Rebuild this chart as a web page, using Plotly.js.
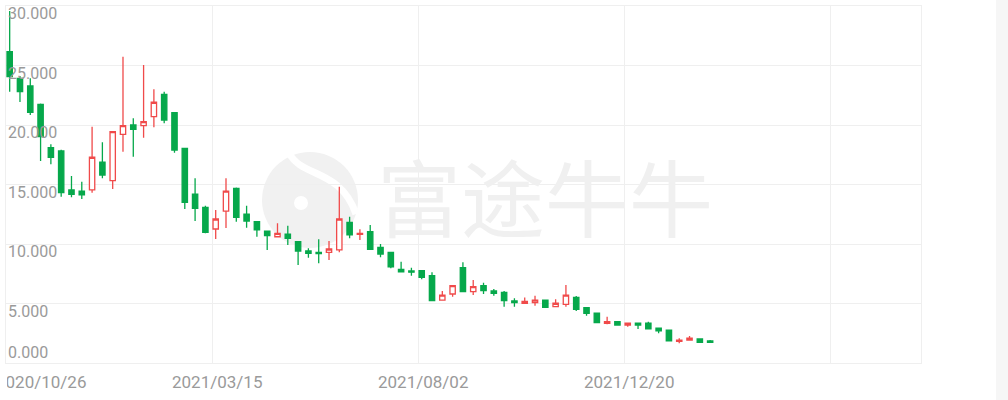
<!DOCTYPE html>
<html>
<head>
<meta charset="utf-8">
<script src="https://cdn.plot.ly/plotly-3.0.1.min.js"></script>
<style>
  html, body { margin: 0; padding: 0; background: linear-gradient(to right, #ffffff 996px, #f6f6f6 996px); }
  #wrap { position: relative; width: 1008px; height: 400px; }
  #chart { width: 1008px; height: 400px; }
  /* the canvas edge trims the first date label on the left */
  #edge { position: absolute; left: 0; top: 366px; width: 7px; height: 34px; background: #ffffff; }
</style>
</head>
<body>
<div id="wrap"><div id="chart"></div><div id="edge"></div></div>
<script>
// Weekly K-line, first bar on the week of 2020-10-26
const firstWeek = Date.UTC(2020, 9, 26);
const openP  = [26.16,23.92,23.28,21.74,18.09,17.82,14.54,14.45,14.54,16.87,15.32,19.22,20.00,19.94,20.70,22.58,21.03,18.04,14.18,13.08,11.26,12.77,14.68,12.50,11.87,11.09,10.61,10.82,10.19,9.41,9.30,9.30,9.50,11.82,10.82,11.03,9.72,9.30,7.87,7.73,7.76,7.34,5.29,5.80,8.01,5.99,6.50,6.05,5.94,5.21,5.02,5.07,5.29,4.73,4.93,5.52,4.65,4.18,3.34,3.47,3.19,3.34,3.34,2.92,2.77,1.82,1.93,2.02,1.85];
const highP  = [29.58,24.12,23.92,21.80,18.38,17.92,15.71,15.24,19.86,18.55,19.44,25.74,20.56,25.04,23.00,22.80,21.03,18.04,15.52,13.22,12.86,15.52,14.75,13.22,11.90,11.12,11.74,11.54,10.22,9.64,10.39,10.25,14.82,12.29,11.24,11.60,10.00,9.32,8.51,8.01,7.78,7.62,6.05,6.50,8.46,6.97,6.75,6.22,6.05,5.44,5.50,5.66,5.31,5.35,6.55,5.63,4.67,4.20,3.89,3.50,3.34,3.36,3.47,2.94,2.79,2.08,2.27,2.04,1.93];
const lowP   = [22.80,21.93,20.84,16.97,16.70,13.97,13.92,13.78,14.31,15.52,14.62,17.76,17.34,18.93,19.81,20.14,17.67,12.94,11.93,10.90,10.42,11.34,11.87,11.37,10.61,9.50,10.61,9.92,8.24,8.85,8.38,8.66,9.30,10.48,10.34,9.50,8.88,7.96,7.67,7.34,7.03,5.24,5.27,5.57,5.99,5.71,5.80,5.66,4.73,4.73,5.02,4.82,4.68,4.73,4.73,4.37,3.97,3.39,3.25,3.19,3.05,2.86,2.86,2.50,1.87,1.66,1.93,1.74,1.74];
const closeP = [24.06,22.80,21.07,19.02,17.29,14.31,14.18,14.12,17.29,15.80,19.44,19.94,19.64,20.28,21.91,20.42,17.90,13.50,13.00,10.98,12.10,14.45,12.23,11.93,11.18,10.70,10.90,10.48,9.41,9.22,9.19,9.58,12.10,10.76,10.90,9.55,9.16,8.09,7.67,7.63,7.20,5.24,5.71,6.50,5.99,6.41,6.08,5.86,5.24,5.07,5.18,5.29,4.68,5.02,5.71,4.51,4.18,3.39,3.47,3.19,3.34,3.19,2.86,2.71,1.87,1.91,2.08,1.74,1.74];

const tickDates  = ['2020-10-26', '2021-03-15', '2021-08-02', '2021-12-20', '2022-05-09'];
const tickLabels = ['2020/10/26', '2021/03/15', '2021/08/02', '2021/12/20', ''];
const yTickVals   = [0, 5, 10, 15, 20, 25, 30];
const yTickLabels = ['0.000', '5.000', '10.000', '15.000', '20.000', '25.000', '30.000'];

const DAY = 86400000;
const weeks = openP.map((_, i) => new Date(firstWeek + i * 7 * DAY).toISOString().slice(0, 10));

const UP = '#f04a4a', DOWN = '#06a84b';
const labelFont = { family: 'Roboto, sans-serif', size: 16, color: '#9a9a9a' };

// plot-area pixel helpers for the watermark
const L = 6, R = 921, T = 6, B = 363;
const px = v => (v - L) / (R - L);
const py = v => (B - v) / (B - T);

const annotations = [];
yTickVals.forEach((v, i) => {
  annotations.push({
    xref: 'paper', yref: 'y', x: 0, y: v, xanchor: 'left', yanchor: 'middle',
    xshift: 0, yshift: v === 0 ? 10.5 : -7.5,
    text: yTickLabels[i], showarrow: false, font: labelFont
  });
});
tickDates.forEach((d, i) => {
  if (!tickLabels[i]) return;
  annotations.push({
    xref: 'x', yref: 'paper', x: d, y: 0,
    xanchor: i === 0 ? 'left' : 'center', yanchor: 'middle',
    xshift: i === 0 ? -12 : 5, yshift: -19,
    text: tickLabels[i], showarrow: false, font: Object.assign({}, labelFont, { size: 17 })
  });
});
// watermark lettering
annotations.push({
  xref: 'paper', yref: 'paper', x: px(545), y: py(194), xanchor: 'center', yanchor: 'middle',
  text: '富途牛牛', showarrow: false,
  font: { family: 'Noto Sans CJK SC, sans-serif', size: 84, color: '#f0f0f0' }
});

const shapes = [
  { type: 'circle', xref: 'paper', yref: 'paper', layer: 'below',
    x0: px(262), x1: px(358), y0: py(248), y1: py(152),
    fillcolor: '#f1f1f1', line: { width: 0 } },
  { type: 'path', xref: 'paper', yref: 'paper', layer: 'below',
    path: `M ${px(289)} ${py(153)} C ${px(302)} ${py(178)} ${px(340)} ${py(168)} ${px(356)} ${py(214)}`,
    line: { color: '#ffffff', width: 7 } },
  { type: 'circle', xref: 'paper', yref: 'paper', layer: 'below',
    x0: px(294), x1: px(308), y0: py(210), y1: py(196),
    fillcolor: '#ffffff', line: { width: 0 } }
];

const trace = {
  type: 'candlestick',
  x: weeks, open: openP, high: highP, low: lowP, close: closeP,
  xperiod: 7 * DAY, xperiodalignment: 'middle',
  increasing: { line: { color: UP, width: 1.3 }, fillcolor: '#ffffff' },
  decreasing: { line: { color: DOWN, width: 1.3 }, fillcolor: DOWN },
  whiskerwidth: 0,
  hoverinfo: 'x+y'
};

const layout = {
  width: 1008, height: 400,
  margin: { l: L, r: 1008 - R, t: T, b: 400 - B, pad: 0 },
  paper_bgcolor: 'rgba(0,0,0,0)',
  plot_bgcolor: '#ffffff',
  showlegend: false,
  boxgap: 0.26,
  xaxis: {
    type: 'date',
    range: ['2020-10-26', '2022-07-09 19:00'],
    tickvals: tickDates, ticktext: tickLabels,
    showticklabels: false, ticks: '',
    showgrid: true, gridcolor: '#efefef', gridwidth: 1,
    showline: true, mirror: true, linecolor: '#efefef', linewidth: 1,
    zeroline: false,
    rangeslider: { visible: false },
    fixedrange: true
  },
  yaxis: {
    range: [0, 30],
    tickvals: yTickVals,
    showticklabels: false, ticks: '',
    showgrid: true, gridcolor: '#efefef', gridwidth: 1,
    showline: true, mirror: true, linecolor: '#efefef', linewidth: 1,
    zeroline: false,
    fixedrange: true
  },
  annotations: annotations,
  shapes: shapes
};

Plotly.newPlot('chart', [trace], layout, { displayModeBar: false, staticPlot: true });
</script>
</body>
</html>
